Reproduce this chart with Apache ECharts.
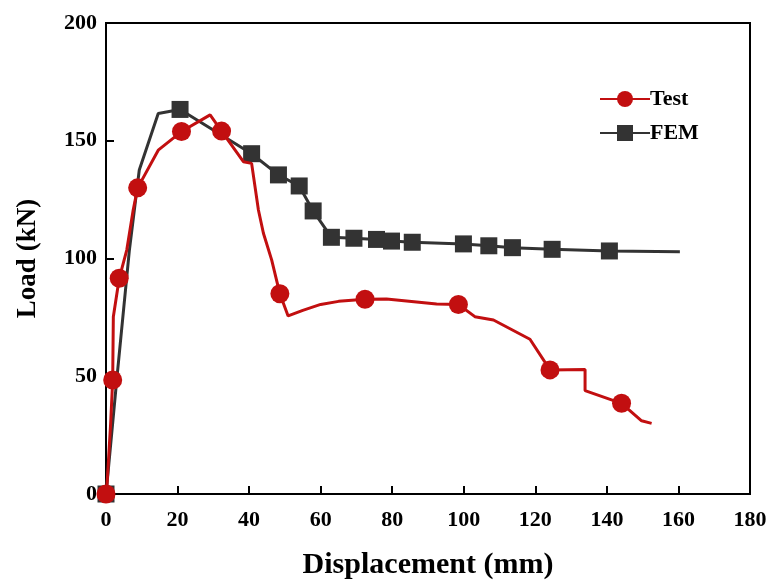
<!DOCTYPE html>
<html>
<head>
<meta charset="utf-8">
<script src="https://cdn.jsdelivr.net/npm/echarts@6/dist/echarts.min.js"></script>
<style>
  html, body { margin: 0; padding: 0; background: #fff; }
  #chart { width: 773px; height: 580px; }
</style>
</head>
<body>
<div id="chart"></div>
<script>
// Load–displacement curves: test measurement vs. finite element model
var testX = [0, 0.2, 1.3, 1.87, 2.05, 3.7, 5.8, 7.6, 8.85, 14.6, 21.1, 29.1, 32.3, 38.4, 40.7, 42.6, 44.0, 46.3, 48.6, 50.9, 55, 60, 65, 72.4, 78.4, 92.4, 98.5, 103.1, 108.3, 118.5, 124.1, 133.9, 133.9, 144.1, 149.7, 152.5];
var testY = [0, 1.7, 30, 48.4, 75.3, 91.6, 103.6, 120.6, 130, 146, 153.9, 161, 154.1, 141.1, 140.4, 120.6, 110.7, 99.4, 85, 75.6, 78, 80.5, 81.8, 82.7, 82.8, 80.7, 80.5, 75.3, 73.9, 65.7, 52.7, 52.9, 43.9, 38.5, 31.1, 30];
// indices of the Test points drawn with a circle marker
var testMarked = [0, 3, 5, 8, 10, 12, 18, 23, 26, 30, 33];

var femX = [0, 3, 6.5, 9.3, 14.6, 20.7, 40.7, 48.2, 54, 57.9, 63, 69.3, 75.6, 79.8, 85.6, 99.9, 107, 113.6, 124.7, 140.7, 160.4];
var femY = [0, 48.5, 103, 137.6, 161.6, 163.3, 144.5, 135.5, 130.8, 120.2, 109, 108.6, 108.1, 107.4, 106.9, 106.2, 105.4, 104.6, 103.9, 103.2, 102.9];
// indices of the FEM points drawn with a square marker
var femMarked = [0, 5, 6, 7, 8, 9, 10, 11, 12, 13, 14, 15, 16, 17, 18, 19];

var xTicks = { min: 0, max: 180, interval: 20 };
var yTicks = { min: 0, max: 200, interval: 50 };

function buildData(xs, ys, marked) {
  return xs.map(function (x, i) {
    var item = { value: [x, ys[i]] };
    if (marked.indexOf(i) < 0) item.symbol = 'none';
    return item;
  });
}

var font = 'Liberation Serif, Times New Roman, serif';
var red = '#c20f10';
var gray = '#333333';

var chart = echarts.init(document.getElementById('chart'), null, { renderer: 'canvas' });
chart.setOption({
  animation: false,
  backgroundColor: '#ffffff',
  grid: {
    left: 106, right: 23, top: 23, bottom: 86,
    outerBoundsMode: 'none', containLabel: false,
    show: true, borderColor: '#000', borderWidth: 2, backgroundColor: 'transparent'
  },
  legend: {
    left: 594, top: 83,
    orient: 'vertical',
    itemWidth: 50, itemHeight: 20, itemGap: 12,
    textStyle: { fontFamily: font, fontWeight: 'bold', fontSize: 22, color: '#000', padding: [0, 0, 0, -5] },
    data: ['Test', 'FEM']
  },
  xAxis: {
    type: 'value',
    min: xTicks.min, max: xTicks.max, interval: xTicks.interval,
    name: 'Displacement (mm)', nameLocation: 'middle', nameGap: 56,
    nameTextStyle: { fontFamily: font, fontWeight: 'bold', fontSize: 30, color: '#000' },
    axisLine: { lineStyle: { color: '#000', width: 2 } },
    axisTick: { inside: true, length: 8, lineStyle: { color: '#000', width: 2 } },
    axisLabel: { margin: 15, fontFamily: font, fontWeight: 'bold', fontSize: 22, color: '#000' },
    splitLine: { show: false }
  },
  yAxis: {
    type: 'value',
    min: yTicks.min, max: yTicks.max, interval: yTicks.interval,
    name: 'Load (kN)', nameLocation: 'middle', nameGap: 64, nameRotate: 90,
    nameTextStyle: { fontFamily: font, fontWeight: 'bold', fontSize: 27, color: '#000' },
    axisLine: { lineStyle: { color: '#000', width: 2 } },
    axisTick: { inside: true, length: 8, lineStyle: { color: '#000', width: 2 } },
    axisLabel: { margin: 9, fontFamily: font, fontWeight: 'bold', fontSize: 22, color: '#000' },
    splitLine: { show: false }
  },
  series: [
    {
      name: 'FEM', type: 'line',
      data: buildData(femX, femY, femMarked),
      symbol: 'rect', symbolSize: 17, showAllSymbol: true,
      itemStyle: { color: gray },
      lineStyle: { color: gray, width: 3 },
      z: 2
    },
    {
      name: 'Test', type: 'line',
      data: buildData(testX, testY, testMarked),
      symbol: 'circle', symbolSize: 19, showAllSymbol: true,
      itemStyle: { color: red },
      lineStyle: { color: red, width: 3 },
      z: 3
    }
  ]
});
</script>
</body>
</html>
